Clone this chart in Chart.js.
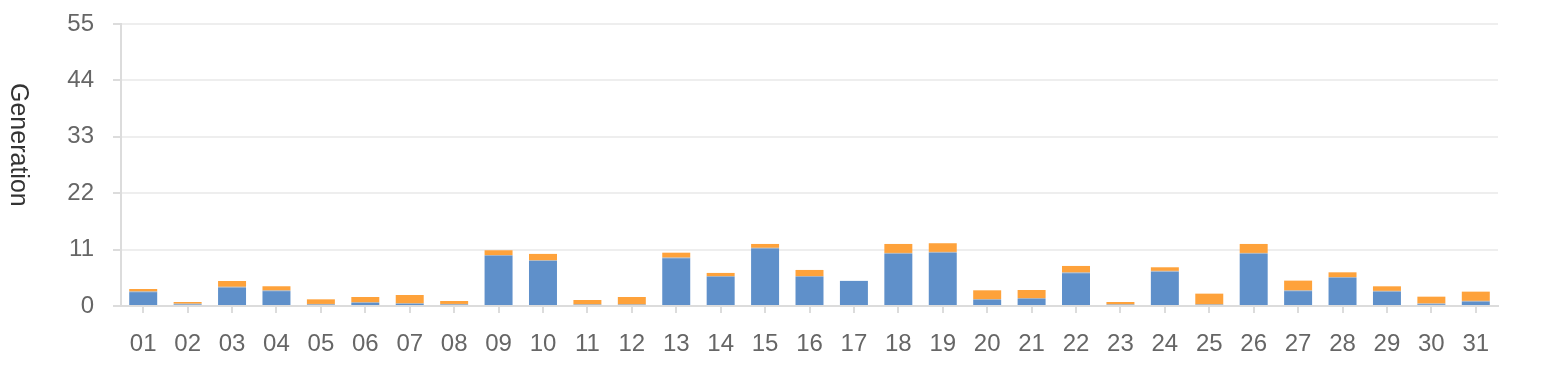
<!DOCTYPE html>
<html>
<head>
<meta charset="utf-8">
<script src="https://cdn.jsdelivr.net/npm/chart.js@4.4.1/dist/chart.umd.min.js"></script>
<style>
  html, body { margin: 0; padding: 0; background: #ffffff; }
  #wrap { position: relative; width: 1542px; height: 380px; }
  #c { position: absolute; left: 0; top: 0; }
  #ytitle {
    position: absolute; left: 7px; top: 75px; height: 140px; width: 26px;
    writing-mode: vertical-rl; text-align: center;
    font-family: "Liberation Sans", Arial, sans-serif; font-size: 25px; color: #333;
    line-height: 26px; white-space: nowrap;
  }
</style>
</head>
<body>
<div id="wrap">
  <canvas id="c" width="1542" height="380"></canvas>
  <div id="ytitle">Generation</div>
</div>
<script>
const categories = ["01","02","03","04","05","06","07","08","09","10","11","12","13","14","15","16","17","18","19","20","21","22","23","24","25","26","27","28","29","30","31"];
const blueValues = [2.7, 0.3, 3.6, 2.9, 0.25, 0.6, 0.4, 0.25, 9.8, 8.8, 0.2, 0.2, 9.3, 5.7, 11.2, 5.7, 4.9, 10.2, 10.4, 1.2, 1.4, 6.4, 0.2, 6.7, 0.2, 10.2, 2.9, 5.5, 2.8, 0.35, 0.85];
const grayValues = [0.15, 0.15, 0.15, 0.15, 0.15, 0.15, 0.15, 0.15, 0.15, 0.15, 0.15, 0.15, 0.15, 0.15, 0.15, 0.15, 0, 0.15, 0.15, 0.15, 0.15, 0.15, 0.15, 0.15, 0.15, 0.15, 0.15, 0.15, 0.15, 0.15, 0.15];
const orangeValues = [0.47, 0.33, 1.13, 0.8, 0.9, 1.01, 1.6, 0.58, 0.92, 1.21, 0.82, 1.41, 0.95, 0.6, 0.75, 1.18, 0, 1.75, 1.69, 1.71, 1.57, 1.26, 0.43, 0.7, 2.06, 1.75, 1.9, 0.92, 0.89, 1.32, 1.8];
const yTicks = [0, 11, 22, 33, 44, 55];

const FONT = "'Liberation Sans', Arial, sans-serif";

new Chart(document.getElementById('c'), {
  type: 'bar',
  data: {
    labels: categories,
    datasets: [
      { label: 'A', data: blueValues, backgroundColor: '#5f90ca', borderWidth: 0, stack: 's' },
      { label: 'B', data: grayValues, backgroundColor: '#a8a8a8', borderWidth: 0, stack: 's' },
      { label: 'C', data: orangeValues, backgroundColor: '#fea23b', borderWidth: 0, stack: 's' }
    ]
  },
  options: {
    responsive: false,
    animation: false,
    barPercentage: 0.63,
    categoryPercentage: 1.0,
    layout: { padding: { left: 0, right: 44, top: 24, bottom: 0 } },
    plugins: { legend: { display: false }, tooltip: { enabled: false }, title: { display: false } },
    scales: {
      x: {
        stacked: true,
        offset: true,
        grid: { display: true, offset: false, drawOnChartArea: false, tickLength: 7, tickColor: '#dcdcdc', lineWidth: 2 },
        border: { display: true, color: '#dcdcdc', width: 2 },
        ticks: { color: '#666', font: { family: FONT, size: 24 }, padding: 17, maxRotation: 0, autoSkip: false },
        afterFit: (s) => { s.height = 74; s.paddingLeft = 0; s.paddingRight = 0; }
      },
      y: {
        stacked: true,
        min: 0, max: 55,
        afterBuildTicks: (s) => { s.ticks = yTicks.map(v => ({ value: v })); },
        grid: { color: '#eeeeee', lineWidth: 2, tickLength: 8, tickColor: '#dcdcdc' },
        border: { display: true, color: '#dcdcdc', width: 2 },
        ticks: { color: '#666', font: { family: FONT, size: 24 }, padding: 19 },
        afterFit: (s) => { s.width = 121; s.paddingTop = 0; s.paddingBottom = 0; }
      }
    }
  }
});
</script>
</body>
</html>
